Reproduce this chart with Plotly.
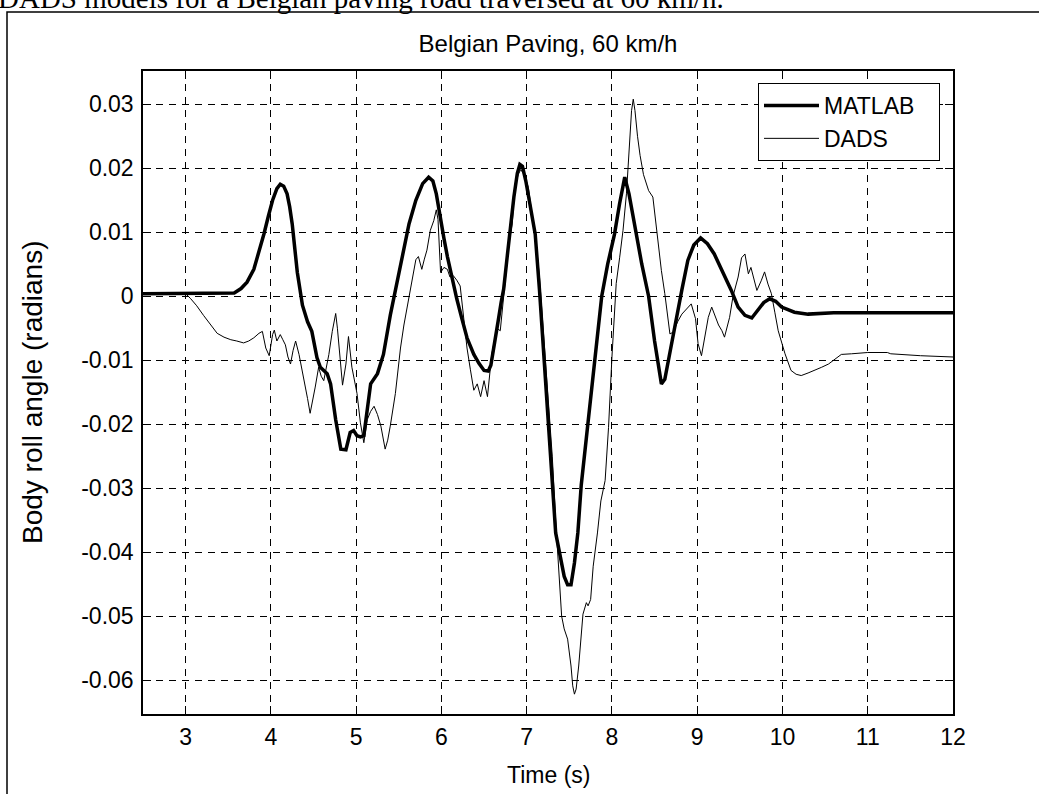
import plotly.graph_objects as go

# ---------------- data ----------------
matlab_t = [2.5, 3.0, 3.5, 3.57, 3.65, 3.72, 3.8, 3.86, 3.92, 3.97, 4.02, 4.07, 4.11, 4.15, 4.19,
            4.22, 4.25, 4.28, 4.31, 4.37, 4.43, 4.48, 4.54, 4.58, 4.66, 4.7, 4.76, 4.82, 4.88,
            4.93, 4.97, 5.01, 5.05, 5.09, 5.13, 5.17, 5.25, 5.32, 5.4, 5.46, 5.52, 5.57, 5.62,
            5.7, 5.78, 5.85, 5.9, 5.94, 5.98, 6.03, 6.07, 6.12, 6.18, 6.24, 6.3, 6.38, 6.44,
            6.5, 6.55, 6.58, 6.61, 6.64, 6.67, 6.7, 6.73, 6.77, 6.81, 6.85, 6.89, 6.92, 6.95,
            6.99, 7.03, 7.07, 7.1, 7.15, 7.2, 7.25, 7.29, 7.34, 7.38, 7.44, 7.48, 7.52, 7.56,
            7.6, 7.64, 7.7, 7.76, 7.82, 7.88, 7.95, 8.03, 8.09, 8.15, 8.2, 8.27, 8.35, 8.43,
            8.5, 8.58, 8.62, 8.67, 8.74, 8.82, 8.89, 8.96, 9.04, 9.12, 9.2, 9.3, 9.4, 9.48,
            9.56, 9.64, 9.71, 9.78, 9.85, 9.92, 9.99, 10.07, 10.14, 10.3, 10.46, 10.6, 11.0,
            11.5, 12.0]
matlab_y = [0.0004, 0.0004, 0.0004, 0.0005, 0.0012, 0.0022, 0.0042, 0.0068, 0.0098, 0.0125,
            0.0150, 0.0168, 0.0175, 0.0172, 0.0160, 0.0140, 0.0113, 0.0075, 0.0037, -0.0014,
            -0.0040, -0.0055, -0.0096, -0.0111, -0.0121, -0.0137, -0.0193, -0.0239, -0.0240,
            -0.0213, -0.0210, -0.0218, -0.0220, -0.0218, -0.0172, -0.0137, -0.0121, -0.0091,
            -0.0030, 0.0010, 0.0047, 0.0080, 0.0113, 0.0150, 0.0176, 0.0186, 0.0180, 0.0160,
            0.0125, 0.0090, 0.0062, 0.0030, -0.0004, -0.0035, -0.0065, -0.0091, -0.0105,
            -0.0116, -0.0117, -0.0108, -0.0081, -0.0060, -0.0035, -0.0010, 0.0011, 0.0060,
            0.0110, 0.0155, 0.0192, 0.0206, 0.0203, 0.0180, 0.0150, 0.0120, 0.0097, 0.0010,
            -0.0085, -0.0180, -0.0270, -0.0370, -0.0400, -0.0438, -0.0451, -0.0451, -0.0417,
            -0.0370, -0.0295, -0.0220, -0.0145, -0.0070, 0.0000, 0.0050, 0.0097, 0.0145,
            0.0186, 0.0160, 0.0108, 0.0050, 0.0000, -0.0070, -0.0137, -0.0130, -0.0095,
            -0.0043, 0.0010, 0.0056, 0.0080, 0.0091, 0.0082, 0.0066, 0.0038, 0.0009, -0.0017,
            -0.0030, -0.0034, -0.0022, -0.0010, -0.0004, -0.0008, -0.0017, -0.0022, -0.0025,
            -0.0028, -0.0027, -0.0026, -0.0026, -0.0026, -0.0026]

dads_t = [2.5, 3.0, 3.06, 3.13, 3.21, 3.29, 3.37, 3.45, 3.53, 3.6, 3.68, 3.74, 3.8, 3.86, 3.9,
          3.94, 3.98, 4.02, 4.04, 4.07, 4.11, 4.14, 4.17, 4.2, 4.23, 4.26, 4.29, 4.33, 4.36,
          4.39, 4.43, 4.46, 4.49, 4.52, 4.56, 4.59, 4.62, 4.65, 4.68, 4.72, 4.76, 4.78, 4.8,
          4.84, 4.88, 4.91, 4.95, 4.98, 5.01, 5.05, 5.09, 5.13, 5.17, 5.21, 5.25, 5.29, 5.34,
          5.37, 5.4, 5.46, 5.52, 5.56, 5.6, 5.64, 5.7, 5.73, 5.77, 5.8, 5.83, 5.87, 5.91,
          5.94, 5.96, 5.99, 6.03, 6.07, 6.1, 6.14, 6.18, 6.22, 6.26, 6.3, 6.34, 6.38, 6.42,
          6.46, 6.5, 6.54, 6.59, 6.65, 6.69, 6.72, 6.75, 6.79, 6.83, 6.86, 6.9, 6.93, 6.97,
          7.02, 7.06, 7.1, 7.15, 7.2, 7.25, 7.3, 7.34, 7.38, 7.41, 7.44, 7.48, 7.52, 7.54,
          7.56, 7.58, 7.61, 7.64, 7.66, 7.7, 7.72, 7.75, 7.78, 7.83, 7.87, 7.92, 7.96, 8.0,
          8.05, 8.09, 8.13, 8.17, 8.2, 8.23, 8.25, 8.27, 8.3, 8.33, 8.37, 8.43, 8.48, 8.51,
          8.54, 8.58, 8.62, 8.68, 8.72, 8.77, 8.82, 8.88, 8.93, 8.98, 9.01, 9.05, 9.09, 9.13,
          9.17, 9.2, 9.25, 9.29, 9.32, 9.38, 9.42, 9.48, 9.52, 9.56, 9.6, 9.63, 9.66, 9.7,
          9.75, 9.79, 9.83, 9.87, 9.91, 9.95, 10.03, 10.1, 10.16, 10.22, 10.3, 10.38, 10.46,
          10.54, 10.62, 10.69, 10.81, 11.0, 11.23, 11.27, 11.62, 12.0]
dads_y = [0.0004, 0.0004, -0.0004, -0.0015, -0.0030, -0.0045, -0.0058, -0.0064, -0.0068,
          -0.0070, -0.0073, -0.0070, -0.0065, -0.0058, -0.0055, -0.0081, -0.0093, -0.0060,
          -0.0053, -0.0070, -0.0060, -0.0068, -0.0076, -0.0095, -0.0106, -0.0085, -0.0070,
          -0.0091, -0.0110, -0.0132, -0.0160, -0.0183, -0.0165, -0.0142, -0.0111, -0.0125,
          -0.0132, -0.0110, -0.0091, -0.0055, -0.0027, -0.0050, -0.0081, -0.0139, -0.0106,
          -0.0063, -0.0111, -0.0130, -0.0152, -0.0198, -0.0229, -0.0193, -0.0180, -0.0172,
          -0.0185, -0.0203, -0.0239, -0.0225, -0.0203, -0.0152, -0.0081, -0.0045, -0.0014,
          0.0011, 0.0057, 0.0062, 0.0042, 0.0058, 0.0072, 0.0103, 0.0118, 0.0135, 0.0120,
          0.0037, 0.0045, 0.0042, 0.0030, 0.0032, 0.0025, 0.0016, -0.0030, -0.0081, -0.0115,
          -0.0147, -0.0137, -0.0157, -0.0132, -0.0157, -0.0091, -0.0050, -0.0054, -0.0010,
          0.0030, 0.0080, 0.0113, 0.0170, 0.0190, 0.0198, 0.0190, 0.0170, 0.0130, 0.0097,
          0.0030, -0.0060, -0.0150, -0.0250, -0.0350, -0.0440, -0.0500, -0.0520, -0.0536,
          -0.0578, -0.0609, -0.0622, -0.0614, -0.0578, -0.0526, -0.0497, -0.0479, -0.0484,
          -0.0474, -0.0422, -0.0370, -0.0320, -0.0288, -0.0205, -0.0095, 0.0020, 0.0060,
          0.0103, 0.0160, 0.0230, 0.0290, 0.0308, 0.0290, 0.0250, 0.0220, 0.0190, 0.0165,
          0.0155, 0.0120, 0.0082, 0.0040, 0.0004, -0.0059, -0.0056, -0.0040, -0.0028,
          -0.0020, -0.0012, -0.0035, -0.0074, -0.0093, -0.0064, -0.0033, -0.0017, -0.0028,
          -0.0045, -0.0054, -0.0064, -0.0033, 0.0000, 0.0030, 0.0060, 0.0066, 0.0035,
          0.0045, 0.0030, 0.0009, 0.0024, 0.0038, 0.0019, 0.0004, -0.0025, -0.0054, -0.0090,
          -0.0116, -0.0122, -0.0124, -0.0120, -0.0116, -0.0111, -0.0106, -0.0098, -0.0091,
          -0.0090, -0.0088, -0.0088, -0.0090, -0.0093, -0.0095]

x_tick_vals = [3, 4, 5, 6, 7, 8, 9, 10, 11, 12]
x_tick_text = ["3", "4", "5", "6", "7", "8", "9", "10", "11", "12"]
y_tick_vals = [-0.06, -0.05, -0.04, -0.03, -0.02, -0.01, 0, 0.01, 0.02, 0.03]
y_tick_text = ["-0.06", "-0.05", "-0.04", "-0.03", "-0.02", "-0.01", "0", "0.01", "0.02", "0.03"]

chart_title = "Belgian Paving, 60 km/h"
x_title = "Time (s)"
y_title = "Body roll angle (radians)"
caption = "DADS models for a Belgian paving road traversed at 60 km/h."
series_names = ["MATLAB", "DADS"]

# ---------------- layout geometry ----------------
W, H = 1039, 794
L, R, T, B = 143, 86, 71, 80
PW, PH = W - L - R, H - T - B
FONT = "Liberation Sans, Arial, sans-serif"
FS = 23
LEGEND_PAD = "&nbsp;" * 3   # right-hand padding inside the legend box


def px(x):
    return (x - L) / PW


def py(y):
    return 1 - (y - T) / PH


fig = go.Figure()
fig.add_trace(go.Scatter(x=matlab_t, y=matlab_y, mode="lines", name=series_names[0] + LEGEND_PAD,
                         line=dict(color="black", width=3.5)))
fig.add_trace(go.Scatter(x=dads_t, y=dads_y, mode="lines", name=series_names[1] + LEGEND_PAD,
                         line=dict(color="black", width=1)))

axis_common = dict(
    showline=True, linecolor="black", linewidth=1.5, mirror="allticks",
    ticks="inside", ticklen=8, tickwidth=1, tickcolor="black",
    showgrid=True, gridcolor="black", gridwidth=1, griddash="7px,6px",
    zeroline=False, tickfont=dict(family=FONT, size=FS, color="black"),
)

fig.update_xaxes(range=[2.5, 12], tickvals=x_tick_vals, ticktext=x_tick_text,
                 ticklabelstandoff=2, **axis_common)
fig.update_yaxes(range=[-0.0653, 0.0352], tickvals=y_tick_vals, ticktext=y_tick_text,
                 ticklabelstandoff=3, **axis_common)

fig.update_layout(
    width=W, height=H,
    margin=dict(l=L, r=R, t=T, b=B, autoexpand=False),
    paper_bgcolor="white", plot_bgcolor="white",
    title=dict(text=chart_title, x=0.5, xref="paper", xanchor="center",
               y=1 - 44 / H, yref="container", yanchor="middle",
               font=dict(family=FONT, size=24, color="black")),
    legend=dict(x=px(940), y=py(83), xanchor="right", yanchor="top",
                bgcolor="white", bordercolor="black", borderwidth=1,
                font=dict(family=FONT, size=FS, color="black"),
                itemwidth=55, tracegroupgap=0),
    showlegend=True,
)

fig.add_annotation(text=x_title, x=0.5, xref="paper", y=py(775), yref="paper",
                   xanchor="center", yanchor="middle", showarrow=False,
                   font=dict(family=FONT, size=FS, color="black"))
fig.add_annotation(text=y_title, x=px(33), xref="paper", y=py(392), yref="paper",
                   xanchor="center", yanchor="middle", textangle=-90, showarrow=False,
                   font=dict(family=FONT, size=28, color="black"))
fig.add_annotation(text=caption, x=px(-4), xref="paper", y=py(-2), yref="paper",
                   xanchor="left", yanchor="middle", showarrow=False,
                   font=dict(family="Liberation Serif, Times New Roman, serif", size=29,
                             color="black"))

# outer frame of the figure panel
fig.add_shape(type="rect", xref="paper", yref="paper",
              x0=px(7), x1=px(W + 10), y0=py(12), y1=py(H + 10),
              line=dict(color="black", width=1.5), fillcolor="rgba(0,0,0,0)", layer="above")

fig.write_html("out.html", config={"displayModeBar": False},
               post_script="document.body.style.margin='0';document.body.style.overflow='hidden';")
